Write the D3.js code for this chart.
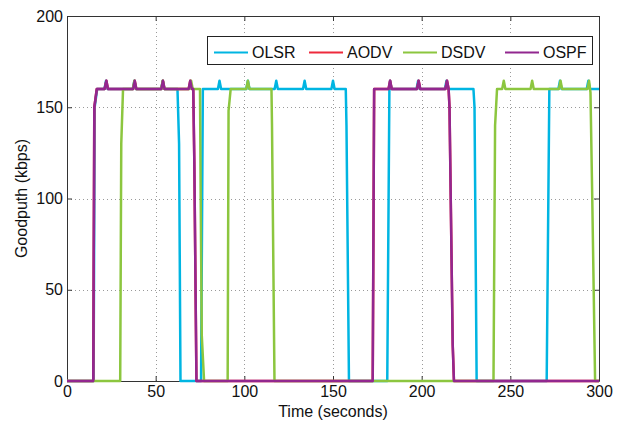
<!DOCTYPE html>
<html>
<head>
<meta charset="utf-8">
<script src="https://cdn.jsdelivr.net/npm/d3@7"></script>
<style>
  html, body { margin: 0; padding: 0; background: #fff; }
  svg text { font-family: "Liberation Sans", Arial, Helvetica, sans-serif; fill: #111; }
</style>
</head>
<body>
<div id="chart"></div>
<script>
/* Goodput over time for four routing protocols (step traces, 160 kbps plateaus) */

/* ── Data ─────────────────────────────────────────────────────────────── */
const PROTOCOLS = ['OLSR', 'AODV', 'DSDV', 'OSPF'];
const COLORS = ['#00b5e2', '#ee2a3c', '#8cc63f', '#92278f'];
const TIME_TICKS = [0, 50, 100, 150, 200, 250, 300];
const GOODPUT_TICKS = [0, 50, 100, 150, 200];

// [time (s), goodput (kbps)]
const olsr = [
  [0, 0], [15, 0], [15.6, 150], [17, 160],
  [21.1, 160], [22, 164.5], [22.9, 160], [37.1, 160], [38, 164.5], [38.9, 160],
  [53.1, 160], [54, 164.5], [54.9, 160], [62.3, 160], [63.2, 130], [64, 0],
  [75.6, 0], [76.6, 160], [85.1, 160], [86, 164.5], [86.9, 160],
  [101.1, 160], [102, 164.5], [102.9, 160], [117.1, 160], [118, 164.5], [118.9, 160],
  [133.1, 160], [134, 164.5], [134.9, 160], [149.1, 160], [150, 164.5], [150.9, 160],
  [157.2, 160], [157.6, 140], [159, 0],
  [180.6, 0], [181.8, 160], [182.2, 164.5], [183, 160], [197.1, 160], [198, 164.5], [198.9, 160],
  [213.1, 160], [214, 164.5], [214.9, 160], [229.2, 160], [229.8, 150], [231, 0],
  [270.5, 0], [272, 160], [277.1, 160], [278, 164.5], [278.9, 160],
  [293.1, 160], [294, 164.5], [294.9, 160], [300, 160]
];

const dsdv = [
  [0, 0], [30, 0], [30.6, 130], [31.6, 160],
  [37.1, 160], [38, 164.5], [38.9, 160], [53.1, 160], [54, 164.5], [54.9, 160],
  [69.1, 160], [70, 164.5], [70.9, 160], [75, 160], [75.4, 100], [76, 25], [77.3, 0],
  [90.6, 0], [91.1, 148], [92.3, 160], [101.1, 160], [102, 164.5], [102.9, 160],
  [115.3, 160], [115.6, 140], [117, 0],
  [240.5, 0], [241.4, 140], [242.5, 160], [245.4, 160], [246.3, 164.5], [247.2, 160],
  [261.4, 160], [262.3, 164.5], [263.2, 160], [277.4, 160], [278.3, 164.5], [279.2, 160],
  [293.5, 160], [294.4, 164.5], [295.2, 158], [296.2, 100], [297.8, 0], [300, 0]
];

const ospf = [
  [0, 0], [14.8, 0], [15.4, 150], [16.8, 160],
  [21.2, 160], [22.2, 164.5], [23.1, 160], [37.3, 160], [38.2, 164.5], [39.1, 160],
  [53.2, 160], [54.1, 164.5], [55, 160], [68.6, 160], [69.5, 164.5], [70.4, 160],
  [71.2, 160], [71.8, 120], [73, 0],
  [172.4, 0], [173.2, 160], [181.3, 160], [182.2, 164.5], [183.1, 160],
  [197.4, 160], [198.3, 164.5], [199.2, 160], [213.4, 160], [214.3, 164.5], [215.2, 160],
  [215.7, 150], [217.5, 20], [218.2, 0], [300, 0]
];

// AODV follows OSPF exactly and is hidden beneath it
const aodv = ospf.map(p => p.slice());

const SERIES = [olsr, aodv, dsdv, ospf];

/* ── Layout ───────────────────────────────────────────────────────────── */
const TW = 624, TH = 424;
const M = { top: 16, right: 25, bottom: 43, left: 67 };
const W = TW - M.left - M.right;
const H = TH - M.top - M.bottom;

const svg = d3.select('#chart').append('svg')
  .attr('width', TW).attr('height', TH);

const root = svg.append('g')
  .attr('transform', `translate(${M.left},${M.top})`);

const x = d3.scaleLinear().domain([0, 300]).range([0, W]);
const y = d3.scaleLinear().domain([0, 200]).range([H, 0]);

/* ── Grid ─────────────────────────────────────────────────────────────── */
const grid = root.append('g')
  .attr('stroke', '#9a9a9a')
  .attr('stroke-width', 1)
  .attr('stroke-dasharray', '1,3');

grid.selectAll('.gx')
  .data(TIME_TICKS.slice(1, -1))
  .join('line')
  .attr('x1', d => Math.round(x(d)) + 0.5).attr('x2', d => Math.round(x(d)) + 0.5)
  .attr('y1', 0).attr('y2', H);

grid.selectAll('.gy')
  .data(GOODPUT_TICKS.slice(1, -1))
  .join('line')
  .attr('y1', d => Math.round(y(d)) + 0.5).attr('y2', d => Math.round(y(d)) + 0.5)
  .attr('x1', 0).attr('x2', W);

/* ── Axes (MATLAB style: inward ticks on all four sides) ──────────────── */
const fontSize = 16;
const axB = root.append('g').attr('transform', `translate(0,${H})`)
  .call(d3.axisBottom(x).tickValues(TIME_TICKS).tickSizeInner(-5).tickSizeOuter(0).tickPadding(5));
const axT = root.append('g')
  .call(d3.axisTop(x).tickValues(TIME_TICKS).tickSizeInner(-5).tickSizeOuter(0).tickFormat(''));
const axL = root.append('g')
  .call(d3.axisLeft(y).tickValues(GOODPUT_TICKS).tickSizeInner(-5).tickSizeOuter(0).tickPadding(4));
const axR = root.append('g').attr('transform', `translate(${W},0)`)
  .call(d3.axisRight(y).tickValues(GOODPUT_TICKS).tickSizeInner(-5).tickSizeOuter(0).tickFormat(''));

[axB, axT, axL, axR].forEach(a => {
  a.select('.domain').attr('stroke', '#333');
  a.selectAll('.tick line').attr('stroke', '#333');
  a.selectAll('.tick text')
    .style('font-family', '"Liberation Sans", Arial, sans-serif')
    .style('font-size', fontSize + 'px')
    .attr('fill', '#111');
});

/* ── Lines ────────────────────────────────────────────────────────────── */
const line = d3.line().x(d => x(d[0])).y(d => y(d[1]));

root.append('g').selectAll('path')
  .data(SERIES)
  .join('path')
  .attr('d', line)
  .attr('fill', 'none')
  .attr('stroke', (_, i) => COLORS[i])
  .attr('stroke-width', 2.5)
  .attr('stroke-linejoin', 'round');

/* ── Axis titles ──────────────────────────────────────────────────────── */
svg.append('text')
  .attr('x', M.left + W / 2).attr('y', 417)
  .attr('text-anchor', 'middle')
  .style('font-size', fontSize + 'px')
  .text('Time (seconds)');

svg.append('text')
  .attr('transform', `translate(27,${M.top + H / 2}) rotate(-90)`)
  .attr('text-anchor', 'middle')
  .style('font-size', fontSize + 'px')
  .text('Goodputh (kbps)');

/* ── Legend ───────────────────────────────────────────────────────────── */
const legend = svg.append('g');
legend.append('rect')
  .attr('x', 207.5).attr('y', 36.5)
  .attr('width', 385).attr('height', 28)
  .attr('fill', '#fff').attr('stroke', '#222').attr('stroke-width', 1);

const LEG_X = [214, 309, 403, 505];
PROTOCOLS.forEach((name, i) => {
  legend.append('line')
    .attr('x1', LEG_X[i]).attr('x2', LEG_X[i] + 34)
    .attr('y1', 52.5).attr('y2', 52.5)
    .attr('stroke', COLORS[i]).attr('stroke-width', 2);
  legend.append('text')
    .attr('x', LEG_X[i] + 38).attr('y', 58)
    .style('font-size', fontSize + 'px')
    .text(name);
});
</script>
</body>
</html>
